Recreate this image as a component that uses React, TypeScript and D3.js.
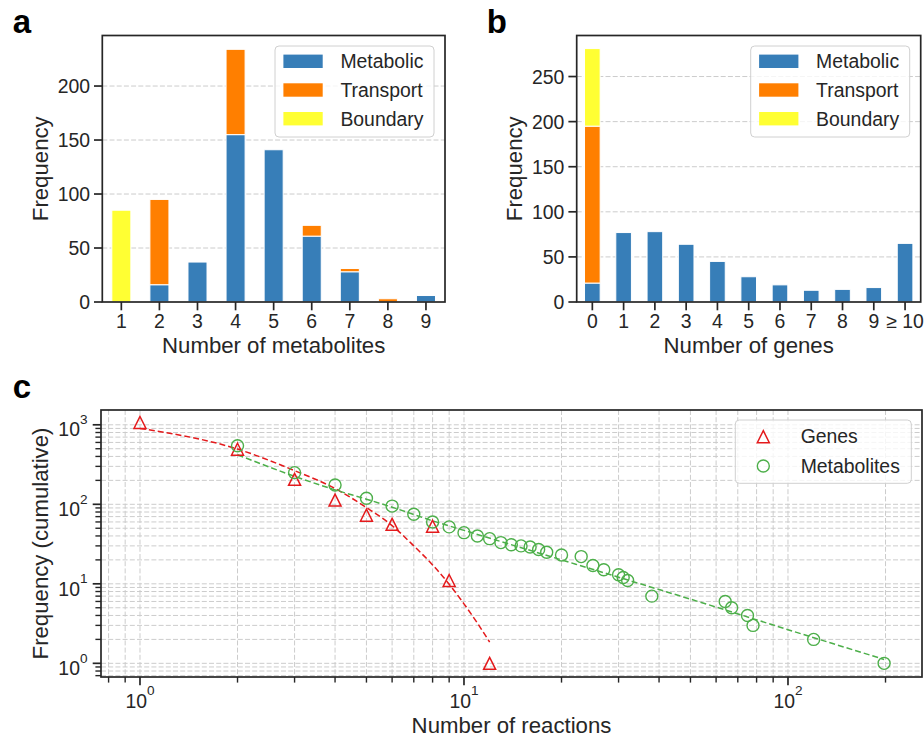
import React from 'react';
import * as d3 from 'd3';

// ---------- Data ----------
const seriesNames = ['Metabolic', 'Transport', 'Boundary'];
const seriesColors = ['#377eb8', '#ff7f00', '#ffff33'];

const metaCategories = ['1', '2', '3', '4', '5', '6', '7', '8', '9'];
const metaMetabolic = [0, 16, 37, 155, 141, 61, 28, 0, 6];
const metaTransport = [0, 79, 0, 79, 0, 10, 3, 3, 0];
const metaBoundary = [85, 0, 0, 0, 0, 0, 0, 0, 0];
const metaYTicks = [0, 50, 100, 150, 200];

const geneCategories = ['0', '1', '2', '3', '4', '5', '6', '7', '8', '9', '≥ 10'];
const geneMetabolic = [21, 77, 78, 64, 45, 28, 19, 13, 14, 16, 65];
const geneTransport = [174, 0, 0, 0, 0, 0, 0, 0, 0, 0, 0];
const geneBoundary = [86, 0, 0, 0, 0, 0, 0, 0, 0, 0, 0];
const geneYTicks = [0, 50, 100, 150, 200, 250];

const genesReactions = [1, 2, 3, 4, 5, 6, 8, 9, 12];
const genesFreq = [1070, 492, 206, 113, 73, 56, 53, 11, 1];
const genesFitReactions = [1, 2, 3, 4, 5, 6, 7, 8, 9, 10, 11, 12];
const genesFitFreq = [900, 495, 265, 158, 91, 54, 30, 17.3, 9.9, 5.6, 3.2, 1.85];

const metabReactions = [2, 3, 4, 5, 6, 7, 8, 9, 10, 11, 12, 13, 14, 15, 16, 17, 18, 20, 23, 25, 27, 30, 31, 32, 38, 64, 67, 75, 78, 120, 198];
const metabFreq = [546, 250, 175, 119, 95, 75, 60, 52, 44, 40, 37, 33, 31, 30, 29, 27, 25, 23, 22, 17, 15, 13, 12, 11, 7, 6, 5, 4, 3, 2, 1];
const metabFitReactions = [2, 3, 4, 5, 6, 8, 10, 20, 35, 60, 100, 198];
const metabFitFreq = [420, 225, 152, 116, 92, 62, 47, 20, 10, 5.1, 2.65, 1.12];

const logMajorX = [1, 10, 100];
const logMinorX = [0.8, 0.9, 2, 3, 4, 5, 6, 7, 8, 9, 20, 30, 40, 50, 60, 70, 80, 90, 200];
const logMajorY = [1, 10, 100, 1000];
const logMinorY = [0.7, 0.8, 0.9, 2, 3, 4, 5, 6, 7, 8, 9, 20, 30, 40, 50, 60, 70, 80, 90, 200, 300, 400, 500, 600, 700, 800, 900];
const logExponentsX = ['0', '1', '2'];
const logExponentsY = ['0', '1', '2', '3'];

// ---------- Style ----------
const FONT = '"Liberation Sans", Arial, Helvetica, sans-serif';
const TXT = '#262626';
const GRID = '#cccccc';
const FS = 19.4;
const LFS = 22.2;

type BarProps = {
  x0: number; x1: number; y0: number; y1: number;
  cats: string[]; met: number[]; tra: number[]; bnd: number[];
  yMax: number; yTicks: number[]; xLabel: string; letter: string; letterX: number;
};

function Legend({ x, y }: { x: number; y: number }) {
  const w = 159, h = 91;
  return (
    <g>
      <rect x={x} y={y} width={w} height={h} rx={4} ry={4} fill="white" fillOpacity={0.8} stroke="#d0d0d0" strokeWidth={1} />
      {seriesNames.map((s, i) => (
        <g key={s}>
          <rect x={x + 8.4} y={y + 15.3 + i * 28.7 - 6.7} width={39.3} height={13.4} fill={seriesColors[i]} />
          <text x={x + 65.4} y={y + 15.3 + i * 28.7 + 7} fontSize={FS} fill={TXT} fontFamily={FONT}>{s}</text>
        </g>
      ))}
    </g>
  );
}

function BarPanel(p: BarProps) {
  const xs = d3.scaleBand<string>().domain(p.cats).range([p.x0, p.x1]).paddingInner(0.5).paddingOuter(0.25);
  const ys = d3.scaleLinear().domain([0, p.yMax]).range([p.y1, p.y0]);
  const rows = p.cats.map((c, i) => ({ cat: c, Metabolic: p.met[i], Transport: p.tra[i], Boundary: p.bnd[i] }));
  const stacked = d3.stack<any>().keys(seriesNames)(rows);
  return (
    <g>
      {p.yTicks.filter(t => t > 0).map(t => (
        <line key={t} x1={p.x0} x2={p.x1} y1={ys(t)} y2={ys(t)} stroke={GRID} strokeWidth={1} strokeDasharray="5,2.2" />
      ))}
      {stacked.map((layer, li) => (
        <g key={li}>
          {layer.map((d, i) => d[1] > d[0] ? (
            <rect key={i} x={xs(d.data.cat)!} width={xs.bandwidth()} y={ys(d[1])} height={ys(d[0]) - ys(d[1])}
              fill={seriesColors[li]} stroke="white" strokeWidth={1} />
          ) : null)}
        </g>
      ))}
      <rect x={p.x0} y={p.y0} width={p.x1 - p.x0} height={p.y1 - p.y0} fill="none" stroke={TXT} strokeWidth={1.7} />
      {p.cats.map(c => {
        const cx = xs(c)! + xs.bandwidth() / 2;
        return (
          <g key={c}>
            <line x1={cx} x2={cx} y1={p.y1} y2={p.y1 + 8.3} stroke={TXT} strokeWidth={1.7} />
            <text x={cx} y={p.y1 + 26.3} textAnchor="middle" fontSize={FS} fill={TXT} fontFamily={FONT}>{c}</text>
          </g>
        );
      })}
      {p.yTicks.map(t => (
        <g key={t}>
          <line x1={p.x0 - 8.3} x2={p.x0} y1={ys(t)} y2={ys(t)} stroke={TXT} strokeWidth={1.7} />
          <text x={p.x0 - 12.3} y={ys(t) + 7} textAnchor="end" fontSize={FS} fill={TXT} fontFamily={FONT}>{t}</text>
        </g>
      ))}
      <text x={(p.x0 + p.x1) / 2} y={352.5} textAnchor="middle" fontSize={LFS} fill={TXT} fontFamily={FONT}>{p.xLabel}</text>
      <text transform={`translate(${p.x0 - 54.7},${(p.y0 + p.y1) / 2}) rotate(-90)`} textAnchor="middle" fontSize={LFS} fill={TXT} fontFamily={FONT}>Frequency</text>
      <Legend x={p.x1 - 11 - 159} y={p.y0 + 10.5} />
      <text x={p.letterX} y={33.3} fontSize={33} fontWeight="bold" fill="black" fontFamily={FONT}>{p.letter}</text>
    </g>
  );
}

function LogPanel() {
  const x0 = 101, x1 = 922, y0 = 410, y1 = 677;
  const xs = d3.scaleLog().domain([0.758, 259.2]).range([x0, x1]);
  const ys = d3.scaleLog().domain([0.673, 1535]).range([y1, y0]);
  const line = d3.line<[number, number]>().x(d => xs(d[0])).y(d => ys(d[1])).curve(d3.curveMonotoneX);
  const gFit = genesFitReactions.map((x, i) => [x, genesFitFreq[i]] as [number, number]);
  const mFit = metabFitReactions.map((x, i) => [x, metabFitFreq[i]] as [number, number]);
  const red = '#e41a1c', green = '#4daf4a';
  const tri = 'M0,-6L6,6L-6,6Z';
  const dash = '5,2.2';
  return (
    <g>
      {[...logMinorY, ...logMajorY].map(t => (
        <line key={'gy' + t} x1={x0} x2={x1} y1={ys(t)} y2={ys(t)} stroke={GRID} strokeWidth={1} strokeDasharray={dash} />
      ))}
      {[...logMinorX, ...logMajorX].map(t => (
        <line key={'gx' + t} x1={xs(t)} x2={xs(t)} y1={y0} y2={y1} stroke={GRID} strokeWidth={1} strokeDasharray={dash} />
      ))}
      <path d={line(gFit)!} fill="none" stroke={red} strokeWidth={1.5} strokeDasharray="6,3" />
      <path d={line(mFit)!} fill="none" stroke={green} strokeWidth={1.5} strokeDasharray="6,3" />
      {genesReactions.map((x, i) => (
        <path key={'t' + i} d={tri} transform={`translate(${xs(x)},${ys(genesFreq[i])})`} fill="none" stroke={red} strokeWidth={1.5} />
      ))}
      {metabReactions.map((x, i) => (
        <circle key={'c' + i} cx={xs(x)} cy={ys(metabFreq[i])} r={6} fill="none" stroke={green} strokeWidth={1.4} />
      ))}
      <rect x={x0} y={y0} width={x1 - x0} height={y1 - y0} fill="none" stroke={TXT} strokeWidth={1.7} />
      {logMinorX.map(t => (
        <line key={'mx' + t} x1={xs(t)} x2={xs(t)} y1={y1} y2={y1 + 5.6} stroke={TXT} strokeWidth={1.4} />
      ))}
      {logMinorY.map(t => (
        <line key={'my' + t} x1={x0 - 5.6} x2={x0} y1={ys(t)} y2={ys(t)} stroke={TXT} strokeWidth={1.4} />
      ))}
      {logMajorX.map((t, i) => (
        <g key={'Mx' + t}>
          <line x1={xs(t)} x2={xs(t)} y1={y1} y2={y1 + 8.3} stroke={TXT} strokeWidth={1.7} />
          <text x={xs(t)} y={707.5} textAnchor="middle" fontSize={FS} fill={TXT} fontFamily={FONT}>
            10<tspan dy={-12.5} fontSize={13.6}>{logExponentsX[i]}</tspan>
          </text>
        </g>
      ))}
      {logMajorY.map((t, i) => (
        <g key={'My' + t}>
          <line x1={x0 - 8.3} x2={x0} y1={ys(t)} y2={ys(t)} stroke={TXT} strokeWidth={1.7} />
          <text x={x0 - 13.5} y={ys(t) + 11.7} textAnchor="end" fontSize={FS} fill={TXT} fontFamily={FONT}>
            10<tspan dy={-12.5} fontSize={13.6}>{logExponentsY[i]}</tspan>
          </text>
        </g>
      ))}
      <text x={(x0 + x1) / 2} y={733} textAnchor="middle" fontSize={LFS} fill={TXT} fontFamily={FONT}>Number of reactions</text>
      <text transform={`translate(${x0 - 53.4},${(y0 + y1) / 2}) rotate(-90)`} textAnchor="middle" fontSize={LFS} fill={TXT} fontFamily={FONT}>Frequency (cumulative)</text>
      <g>
        <rect x={x1 - 10.7 - 176} y={y0 + 10} width={176} height={63.3} rx={4} ry={4} fill="white" fillOpacity={0.8} stroke="#d0d0d0" strokeWidth={1} />
        <path d={tri} transform={`translate(${x1 - 10.7 - 176 + 28},${y0 + 26.7})`} fill="none" stroke={red} strokeWidth={1.5} />
        <text x={x1 - 10.7 - 176 + 65.4} y={y0 + 26.7 + 6.5} fontSize={FS} fill={TXT} fontFamily={FONT}>Genes</text>
        <circle cx={x1 - 10.7 - 176 + 28} cy={y0 + 56} r={6} fill="none" stroke={green} strokeWidth={1.4} />
        <text x={x1 - 10.7 - 176 + 65.4} y={y0 + 56 + 6.5} fontSize={FS} fill={TXT} fontFamily={FONT}>Metabolites</text>
      </g>
      <text x={12.7} y={398.3} fontSize={33} fontWeight="bold" fill="black" fontFamily={FONT}>c</text>
    </g>
  );
}

export default function App() {
  return (
    <svg width={924} height={740} viewBox="0 0 924 740" style={{ position: 'absolute', left: 0, top: 0, display: 'block', background: 'white' }}>
      <rect x={0} y={0} width={924} height={740} fill="white" />
      <BarPanel x0={102.3} x1={445} y0={35.5} y1={302} cats={metaCategories} met={metaMetabolic} tra={metaTransport} bnd={metaBoundary}
        yMax={246.8} yTicks={metaYTicks} xLabel="Number of metabolites" letter="a" letterX={12.7} />
      <BarPanel x0={576.7} x1={920.7} y0={35.5} y1={302} cats={geneCategories} met={geneMetabolic} tra={geneTransport} bnd={geneBoundary}
        yMax={295.5} yTicks={geneYTicks} xLabel="Number of genes" letter="b" letterX={486.7} />
      <LogPanel />
    </svg>
  );
}
